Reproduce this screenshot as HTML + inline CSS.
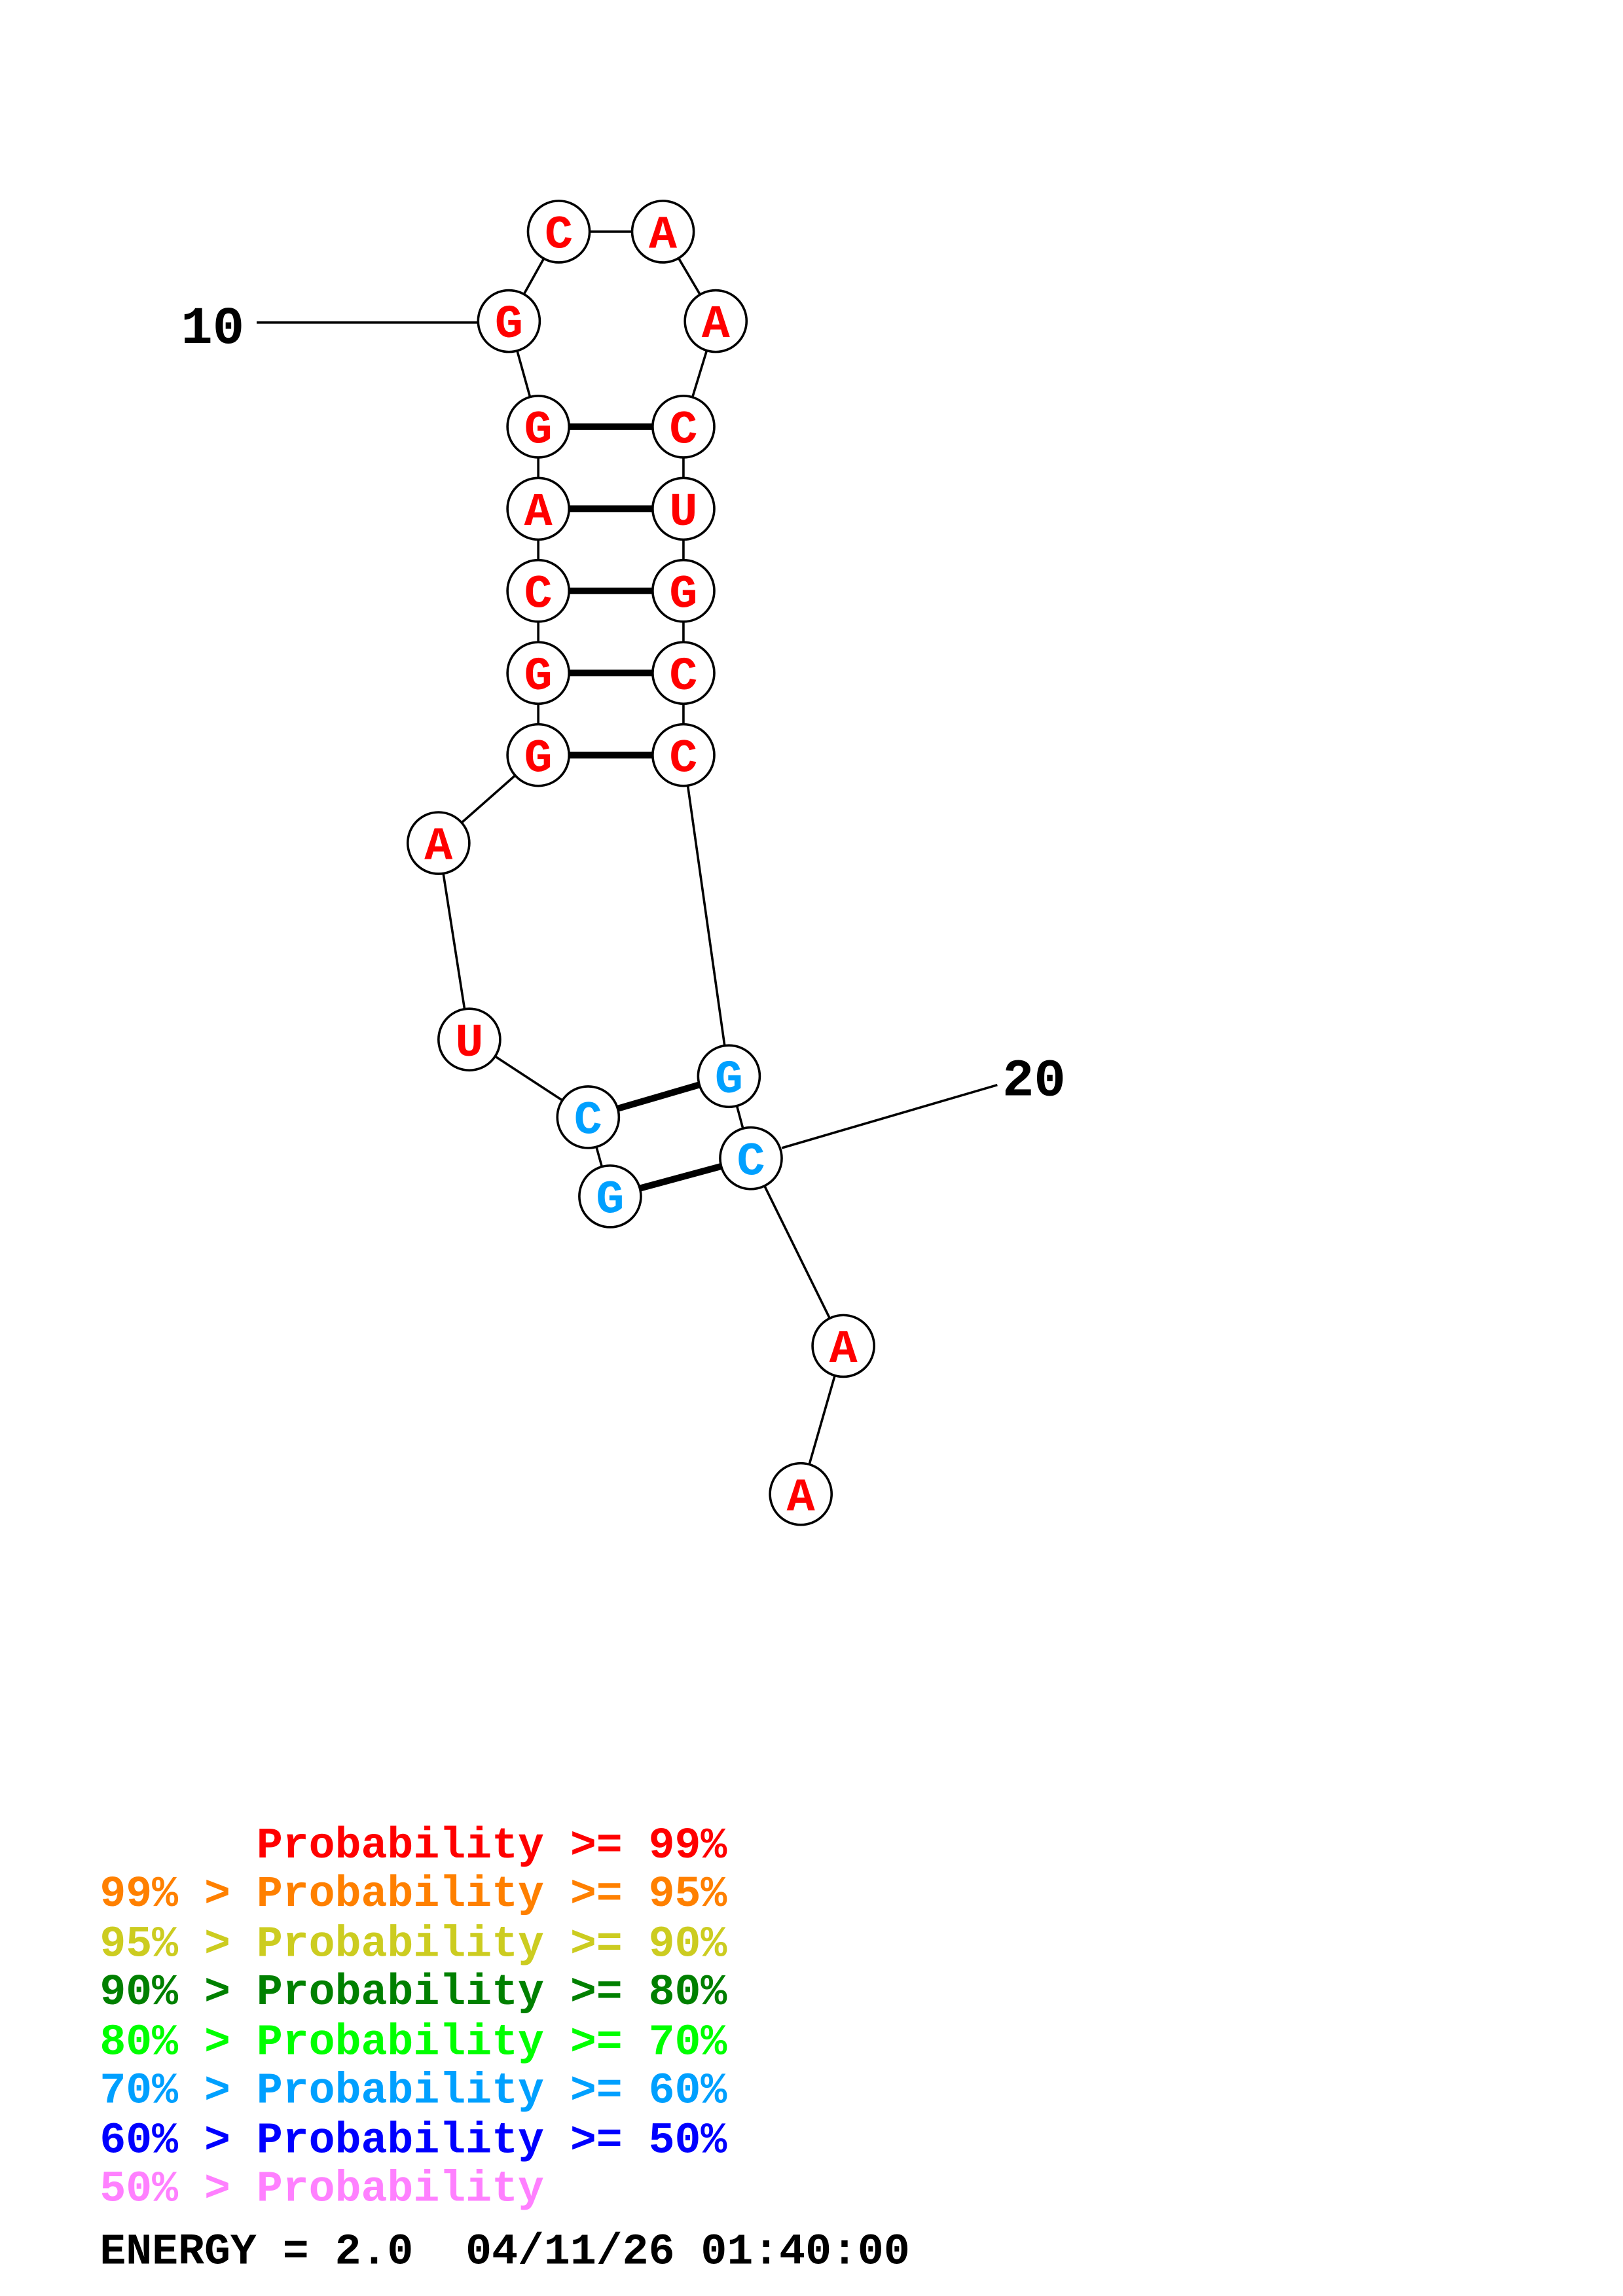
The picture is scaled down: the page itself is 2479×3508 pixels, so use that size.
<!DOCTYPE html>
<html><head><meta charset="utf-8"><style>
html,body{margin:0;padding:0;background:#fff;}
svg{display:block;}
svg text{white-space:pre;}
</style></head><body>
<svg width="2479" height="3508" viewBox="0 0 1106.6 1566" preserveAspectRatio="none" xmlns="http://www.w3.org/2000/svg">
<rect x="0" y="0" width="1106.6" height="1566" fill="#fff"/>
<g stroke="#000" stroke-width="1.6" fill="none">
<polyline points="416,816 401,762 320,709 299,575 367,515 367,459 367,403 367,347 367,291 347,219 381,158 452,158 488,219 466,291 466,347 466,403 466,459 466,515 497,734 512,790 575,918 546,1019"/>
<line x1="175" y1="220" x2="326" y2="220"/>
<line x1="533" y1="783" x2="680" y2="740"/>
</g>
<g stroke="#000" stroke-width="4.5">
<line x1="367" y1="291" x2="466" y2="291"/>
<line x1="367" y1="347" x2="466" y2="347"/>
<line x1="367" y1="403" x2="466" y2="403"/>
<line x1="367" y1="459" x2="466" y2="459"/>
<line x1="367" y1="515" x2="466" y2="515"/>
<line x1="401" y1="762" x2="497" y2="734"/>
<line x1="416" y1="816" x2="512" y2="790"/>
</g>
<g stroke="#000" stroke-width="1.6" fill="#fff">
<circle cx="381" cy="158" r="21"/><circle cx="452" cy="158" r="21"/>
<circle cx="347" cy="219" r="21"/><circle cx="488" cy="219" r="21"/>
<circle cx="367" cy="291" r="21"/><circle cx="466" cy="291" r="21"/>
<circle cx="367" cy="347" r="21"/><circle cx="466" cy="347" r="21"/>
<circle cx="367" cy="403" r="21"/><circle cx="466" cy="403" r="21"/>
<circle cx="367" cy="459" r="21"/><circle cx="466" cy="459" r="21"/>
<circle cx="367" cy="515" r="21"/><circle cx="466" cy="515" r="21"/>
<circle cx="299" cy="575" r="21"/><circle cx="320" cy="709" r="21"/>
<circle cx="401" cy="762" r="21"/><circle cx="497" cy="734" r="21"/>
<circle cx="416" cy="816" r="21"/><circle cx="512" cy="790" r="21"/>
<circle cx="575" cy="918" r="21"/><circle cx="546" cy="1019" r="21"/>
</g>
<g font-family="Liberation Mono, monospace" font-weight="bold" font-size="32" text-anchor="middle" fill="#ff0000">
<text x="381" y="169">C</text><text x="452" y="169">A</text>
<text x="347" y="230">G</text><text x="488" y="230">A</text>
<text x="367" y="302">G</text><text x="466" y="302">C</text>
<text x="367" y="358">A</text><text x="466" y="358">U</text>
<text x="367" y="414">C</text><text x="466" y="414">G</text>
<text x="367" y="470">G</text><text x="466" y="470">C</text>
<text x="367" y="526">G</text><text x="466" y="526">C</text>
<text x="299" y="586">A</text><text x="320" y="720">U</text>
<text x="575" y="929">A</text><text x="546" y="1030">A</text>
<g fill="#00a0ff">
<text x="401" y="773">C</text><text x="497" y="745">G</text>
<text x="416" y="827">G</text><text x="512" y="801">C</text>
</g>
</g>
<g font-family="Liberation Mono, monospace" font-weight="bold" font-size="36" fill="#000">
<text x="145" y="234" text-anchor="middle">10</text>
<text x="705" y="747" text-anchor="middle">20</text>
</g>
<g font-family="Liberation Mono, monospace" font-weight="bold" font-size="29.7">
<text x="68" y="1267" fill="#ff0000">      Probability &gt;= 99%</text>
<text x="68" y="1300" fill="#ff8000">99% &gt; Probability &gt;= 95%</text>
<text x="68" y="1334" fill="#cccc20">95% &gt; Probability &gt;= 90%</text>
<text x="68" y="1367" fill="#008000">90% &gt; Probability &gt;= 80%</text>
<text x="68" y="1401" fill="#00ff00">80% &gt; Probability &gt;= 70%</text>
<text x="68" y="1434" fill="#00a0ff">70% &gt; Probability &gt;= 60%</text>
<text x="68" y="1468" fill="#0000ff">60% &gt; Probability &gt;= 50%</text>
<text x="68" y="1501" fill="#ff80ff">50% &gt; Probability</text>
<text x="68" y="1544" fill="#000">ENERGY = 2.0  04/11/26 01:40:00</text>
</g>
</svg>
</body></html>
